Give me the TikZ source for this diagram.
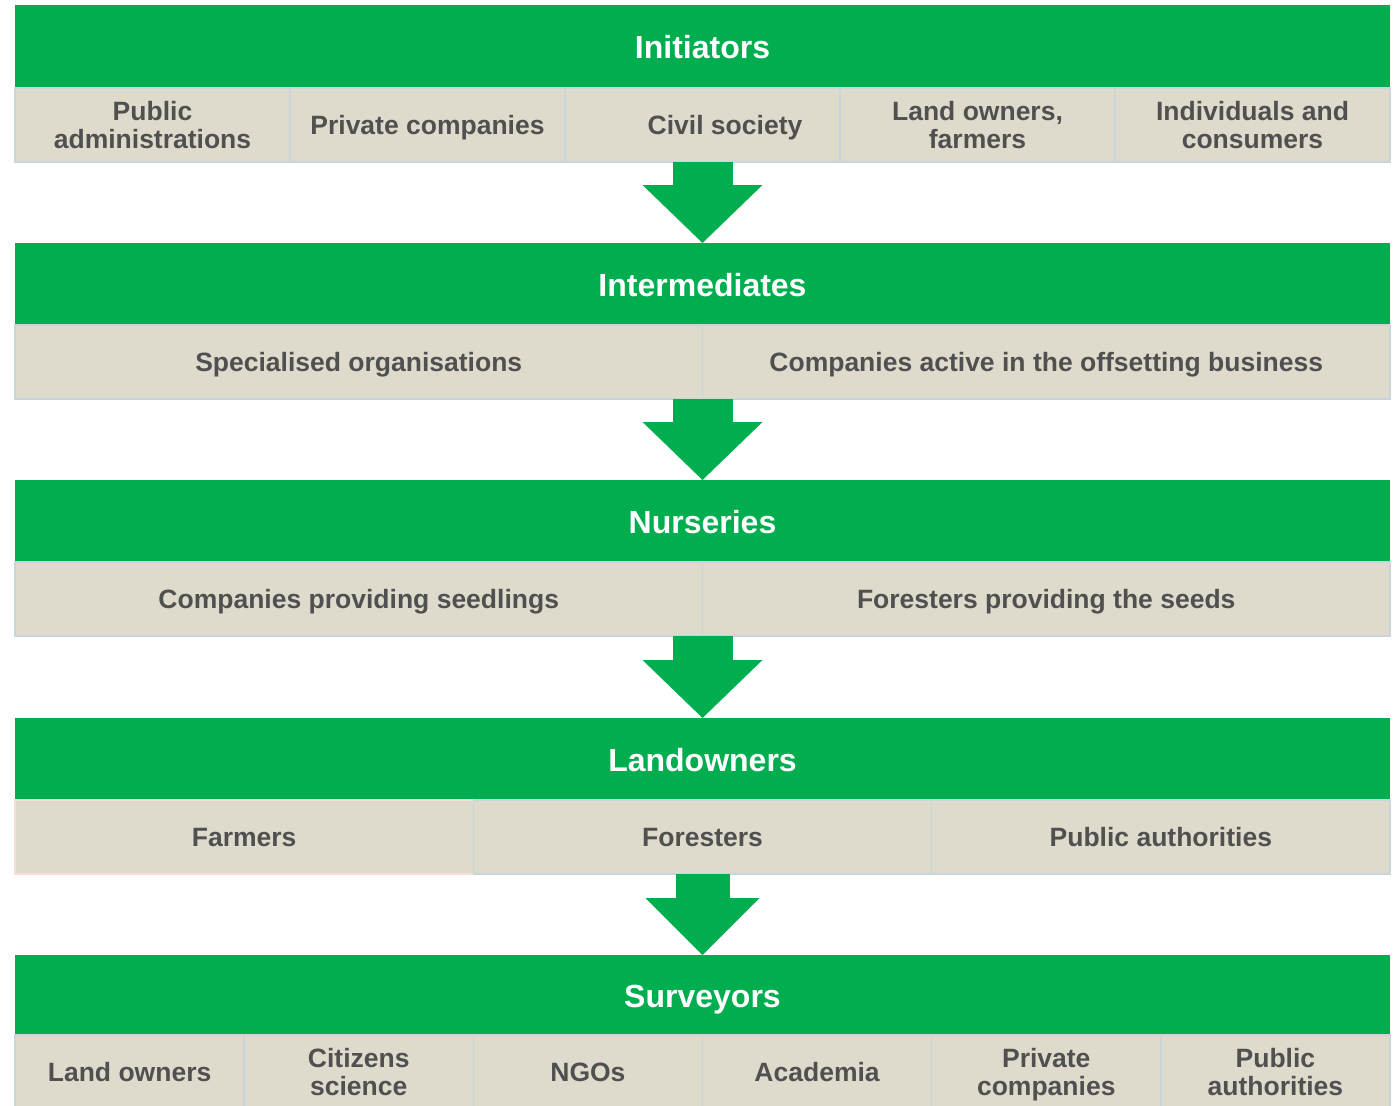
\documentclass[tikz,border=0pt]{standalone}
\usepackage{fontspec}
\setmainfont{Liberation Sans}
\usepackage{tikz}
\usetikzlibrary{arrows.meta}

\definecolor{bandgreen}{RGB}{0,174,80}
\definecolor{cellbeige}{RGB}{223,219,204}
\definecolor{celltext}{RGB}{80,80,80}
\definecolor{cellline}{RGB}{200,214,220}
\definecolor{cellpink}{RGB}{248,222,216}

\tikzset{
  band/.style={fill=bandgreen, text=white, anchor=north west, inner sep=0pt, outer sep=0pt,
    minimum width=1375pt, minimum height=83pt, text depth=0pt,
    font=\bfseries\fontsize{32}{36}\selectfont},
  cell/.style={fill=cellbeige, draw=cellline, line width=1.5pt, text=celltext, anchor=north west,
    inner sep=0pt, outer sep=0pt, align=center, minimum width=#1, minimum height=74pt,
    text depth=0pt, font=\bfseries\fontsize{26.5}{28}\selectfont},
  flow/.style={draw=bandgreen, line width=60pt, -{Triangle[width=120pt, length=58pt, line width=0pt]}}
}

\begin{document}
\begin{tikzpicture}[x=1pt, y=-1pt]
        \useasboundingbox (0,0) rectangle (1396,1105);

        % initiators
        \node[band] (b1) at (15,5) {Initiators};
        \node[cell=275pt] (c11) at (15,88) {Public\\administrations};
        \node[cell=275pt] (c12) at (290,88) {Private companies};
        \node[cell=275pt] (c13) at (565,88) {\hspace*{45pt}Civil society};
        \node[cell=275pt] (c14) at (840,88) {Land owners,\\farmers};
        \node[cell=275pt] (c15) at (1115,88) {Individuals and\\consumers};

        % intermediates
        \node[band] (b2) at (15,243) {Intermediates};
        \node[cell=687.5pt] (c21) at (15,325) {Specialised organisations};
        \node[cell=687.5pt] (c22) at (702.5,325) {Companies active in the offsetting business};

        % nurseries
        \node[band] (b3) at (15,480) {Nurseries};
        \node[cell=687.5pt] (c31) at (15,562) {Companies providing seedlings};
        \node[cell=687.5pt] (c32) at (702.5,562) {Foresters providing the seeds};

        % landowners
        \node[band] (b4) at (15,718) {Landowners};
        \node[cell=458.33pt, draw=cellpink] (c41) at (15,800) {Farmers};
        \node[cell=458.33pt] (c42) at (473.33,800) {Foresters};
        \node[cell=458.33pt] (c43) at (931.67,800) {Public authorities};

        % surveyors
        \node[band] (b5) at (15,955) {Surveyors};
        \node[cell=229.17pt] (c51) at (15,1035) {Land owners};
        \node[cell=229.17pt] (c52) at (244.17,1035) {Citizens\\science};
        \node[cell=229.17pt] (c53) at (473.33,1035) {NGOs};
        \node[cell=229.17pt] (c54) at (702.5,1035) {Academia};
        \node[cell=229.17pt] (c55) at (931.67,1035) {Private\\companies};
        \node[cell=229.17pt] (c56) at (1160.83,1035) {Public\\authorities};

        \draw[flow] (b1.center |- c13.south) -- (b2.north);
        \draw[flow] (b2.center |- c21.south) -- (b3.north);
        \draw[flow] (b3.center |- c31.south) -- (b4.north);
        \draw[flow, line width=54pt, -{Triangle[width=114pt, length=57pt, line width=0pt]}]
            (b4.center |- c42.south) -- (b5.north);
    \end{tikzpicture}
\end{document}
